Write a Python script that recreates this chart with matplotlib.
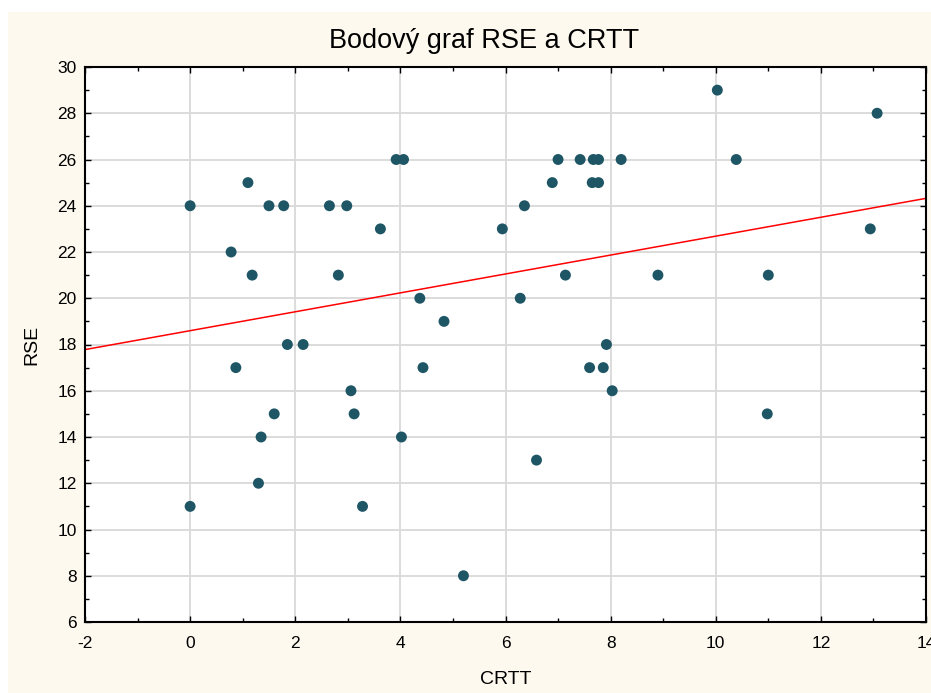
import numpy as np
import matplotlib
matplotlib.use("Agg")
import matplotlib.pyplot as plt
from matplotlib.patches import Rectangle
from matplotlib.ticker import MultipleLocator

plt.rcParams['font.family'] = ['Liberation Sans', 'DejaVu Sans']
plt.rcParams['axes.unicode_minus'] = False

crtt = [0.0, 0.0, 0.78, 0.87, 1.1, 1.18, 1.5, 1.6, 1.35, 1.3, 1.78, 1.85, 2.15,
        2.65, 2.82, 2.98, 3.06, 3.12, 3.28, 3.62, 3.92, 4.06, 4.37, 4.43, 4.02,
        4.83, 5.2, 5.94, 6.28, 6.36, 6.59, 6.89, 7.0, 7.42, 7.67, 7.77, 8.2,
        7.65, 7.77, 7.14, 7.6, 7.86, 7.92, 8.03, 8.9, 10.03, 10.39, 11.0, 10.98,
        12.94, 13.07]
rse = [24, 11, 22, 17, 25, 21, 24, 15, 14, 12, 24, 18, 18,
       24, 21, 24, 16, 15, 11, 23, 26, 26, 20, 17, 14,
       19, 8, 23, 20, 24, 13, 25, 26, 26, 26, 26, 26,
       25, 25, 21, 17, 17, 18, 16, 21, 29, 26, 21, 15,
       23, 28]

# regression line as shown in the chart (endpoints)
fit_x = [-2, 14]
fit_y = [17.78, 24.32]

title = "Bodový graf RSE a CRTT"
xlabel = "CRTT"
ylabel = "RSE"

W, H = 931, 693
fig = plt.figure(figsize=(W / 100, H / 100), dpi=100)
fig.patch.set_facecolor('white')
fig.patches.append(Rectangle((8 / W, 0), 1 - 8 / W, (H - 12) / H,
                             transform=fig.transFigure, facecolor='#fdf9ee',
                             edgecolor='none', zorder=-10))

ax = fig.add_axes([85 / W, 71 / H, 841 / W, 555 / H])
ax.set_zorder(1)
ax.set_facecolor('white')
ax.set_xlim(-2, 14)
ax.set_ylim(6, 30)
ax.xaxis.set_major_locator(MultipleLocator(2))
ax.xaxis.set_minor_locator(MultipleLocator(1))
ax.yaxis.set_major_locator(MultipleLocator(2))
ax.yaxis.set_minor_locator(MultipleLocator(1))
ax.grid(True, which='major', color='#d9d9d9', linewidth=1.3)
ax.set_axisbelow(True)
ax.tick_params(which='both', direction='in', top=True, right=True,
               labelsize=12.5, colors='black')
ax.tick_params(which='major', length=4, width=1)
ax.tick_params(which='minor', length=3, width=1)
ax.tick_params(axis='x', pad=10)
ax.tick_params(axis='y', pad=6)
for s in ax.spines.values():
    s.set_linewidth(1.5)
    s.set_color('black')

ax.plot(fit_x, fit_y, color='#ff0000', linewidth=1.1, zorder=2)

ax.scatter(crtt, rse, s=62, color='#1f5666', edgecolors='none', zorder=3)

fig.text(484 / W, 1 - 41 / H, title, ha='center', va='center', fontsize=19.5)
fig.text(506 / W, 1 - 680 / H, xlabel, ha='center', va='center', fontsize=14)
fig.text(32 / W, 1 - 345 / H, ylabel, ha='center', va='center', fontsize=14,
         rotation=90)

fig.savefig('out.png', dpi=100, facecolor=fig.get_facecolor())
